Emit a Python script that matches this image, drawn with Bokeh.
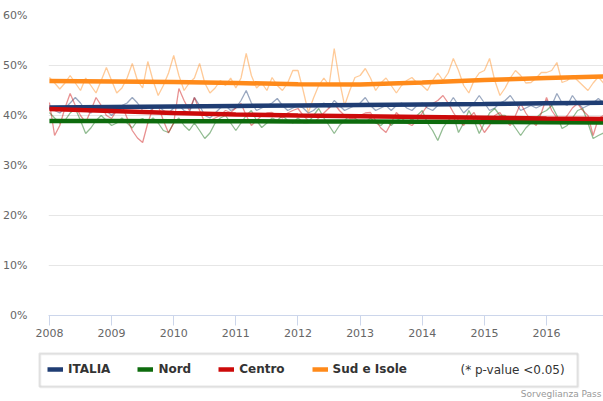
import numpy as np
from bokeh.plotting import figure
from bokeh.layouts import column
from bokeh.models import (FixedTicker, CustomJSTickFormatter, Legend, LegendItem,
                          Label, BoxAnnotation, Range1d)
from bokeh.embed import file_html
from bokeh.resources import INLINE

# ---- data (monthly, Jan 2008 .. Dec 2016), % ----
month_index = list(range(108))
year_ticks = [2008, 2009, 2010, 2011, 2012, 2013, 2014, 2015, 2016]
pct_ticks = [0, 10, 20, 30, 40, 50, 60]

italia = [41.4, 41.0, 40.5, 41.5, 42.5, 43.6, 42.5, 41.0, 40.5, 41.5, 42.0, 41.0,
          40.0, 41.0, 42.0, 42.5, 43.6, 42.5, 41.0, 40.5, 41.5, 42.0, 41.0, 40.5,
          41.5, 42.0, 41.0, 40.5, 43.6, 42.0, 40.0, 39.5, 40.5, 41.5, 42.0, 41.0,
          41.5, 43.0, 45.0, 42.5, 41.0, 41.5, 42.0, 42.5, 43.4, 42.0, 41.0, 41.5,
          42.0, 41.5, 40.5, 41.0, 42.0, 42.5, 41.5, 43.0, 42.0, 41.0, 41.5, 42.0,
          42.5, 43.6, 42.0, 41.0, 41.5, 42.0, 41.0, 42.0, 42.5, 41.5, 41.0, 42.0,
          42.5, 41.5, 41.0, 42.0, 42.5, 42.0, 43.6, 42.0, 40.5, 41.5, 42.5, 44.0,
          42.5, 41.0, 41.5, 42.5, 43.0, 44.0, 42.5, 41.0, 41.5, 42.0, 41.5, 42.0,
          43.0, 42.0, 44.4, 42.5, 42.0, 44.0, 42.5, 41.5, 42.0, 42.5, 43.4, 42.5]

nord = [40.6, 39.5, 38.5, 39.0, 40.5, 41.4, 39.0, 36.4, 37.5, 39.0, 40.0, 39.0,
        38.0, 38.5, 39.5, 38.5, 37.5, 39.0, 39.4, 38.5, 39.5, 38.5, 37.0, 36.6,
        38.5, 39.5, 38.0, 37.0, 38.5, 37.0, 35.4, 36.5, 38.5, 39.5, 40.0, 38.5,
        37.0, 38.5, 40.0, 41.0, 39.0, 37.6, 38.5, 39.5, 39.0, 40.0, 39.0, 38.5,
        39.5, 38.6, 38.6, 40.0, 41.4, 39.5, 38.0, 36.4, 38.0, 39.0, 40.0, 39.5,
        38.6, 38.6, 39.5, 38.5, 38.0, 39.0, 38.0, 39.0, 39.5, 40.0, 39.0, 40.0,
        41.0, 38.5, 37.0, 35.0, 37.5, 39.0, 40.0, 36.6, 38.5, 41.0, 39.0, 36.4,
        38.5, 40.5, 41.4, 40.0, 40.0, 39.0, 37.5, 36.0, 37.5, 38.5, 39.5, 40.5,
        41.0, 42.0, 40.0, 37.4, 38.0, 39.5, 41.0, 41.4, 38.5, 35.4, 36.0, 36.5]

centro = [42.6, 36.0, 38.0, 41.5, 44.4, 42.0, 40.0, 38.6, 41.0, 43.6, 42.0, 40.0,
          39.4, 41.0, 42.0, 39.5, 37.0, 35.5, 34.6, 38.5, 41.5, 42.0, 39.0, 36.5,
          38.5, 45.4, 43.0, 41.0, 43.6, 41.0, 38.6, 39.0, 39.5, 40.0, 41.0, 40.6,
          41.5, 42.4, 40.0, 38.0, 39.0, 40.0, 40.5, 40.6, 40.0, 39.5, 40.5, 41.0,
          41.4, 40.0, 39.0, 38.6, 39.5, 40.5, 41.5, 42.4, 41.0, 40.0, 39.4, 39.5,
          40.0, 40.5, 40.6, 39.0, 37.5, 36.6, 38.5, 40.6, 39.5, 38.5, 38.0, 39.0,
          40.5, 42.0, 42.4, 43.0, 44.0, 42.5, 40.6, 39.0, 38.0, 39.5, 40.6, 38.5,
          36.6, 38.0, 40.0, 40.6, 39.0, 38.0, 40.0, 42.4, 40.5, 39.0, 38.0, 40.5,
          43.6, 41.0, 39.5, 38.6, 40.0, 41.5, 42.4, 41.0, 40.0, 36.0, 39.4, 40.0]

sud = [47.6, 46.5, 45.3, 46.5, 48.0, 46.5, 45.0, 47.5, 46.0, 44.5, 47.0, 49.6,
       47.0, 44.5, 45.5, 47.5, 50.4, 47.0, 45.5, 50.8, 47.0, 44.0, 46.0, 48.5,
       52.0, 48.0, 45.0, 46.5, 47.5, 50.4, 46.5, 44.5, 45.5, 47.0, 46.0, 47.5,
       45.5, 47.5, 52.4, 48.0, 45.5, 46.5, 45.0, 47.6, 46.0, 45.0, 46.5, 49.0,
       49.0, 45.0, 40.6, 43.5, 46.0, 47.5, 46.0, 53.4, 47.0, 42.0, 45.0, 47.6,
       48.0, 49.4, 47.5, 45.0, 46.5, 47.5, 46.0, 44.5, 46.0, 47.0, 47.6, 46.5,
       46.0, 45.0, 47.0, 48.5, 47.0, 48.5, 51.4, 49.0, 46.0, 44.5, 47.0, 48.5,
       49.0, 51.4, 47.0, 44.0, 45.5, 47.5, 49.0, 48.0, 46.5, 46.6, 47.5, 48.6,
       48.6, 49.0, 50.6, 46.6, 47.0, 48.0, 47.0, 46.0, 45.0, 46.5, 47.7, 46.5]

# trend lines (read at the start of each year and at the last month)
trend_months = [0, 12, 24, 36, 48, 60, 72, 84, 96, 107]
italia_trend = [41.6, 41.7, 41.8, 41.9, 42.0, 42.1, 42.2, 42.3, 42.45, 42.55]
nord_trend = [38.9, 38.9, 38.85, 38.85, 38.8, 38.8, 38.75, 38.7, 38.65, 38.6]
centro_trend = [41.3, 40.9, 40.5, 40.2, 40.0, 39.85, 39.7, 39.55, 39.4, 39.3]
sud_trend = [46.9, 46.8, 46.7, 46.5, 46.25, 46.2, 46.6, 47.1, 47.5, 47.8]

series_names = ["ITALIA", "Nord", "Centro", "Sud e Isole"]
series_colors = ["#1f3d73", "#0d6b0d", "#cc0a0a", "#ff8a1a"]

FONT = "DejaVu Sans"

x_month = [2008 + m / 12 for m in month_index]
x_trend = [2008 + m / 12 for m in trend_months]

p = figure(width=603, height=343, output_backend="svg", toolbar_location=None,
           x_range=Range1d(2007.985, 2008 + 107 / 12), y_range=Range1d(0, 60),
           min_border_left=45, min_border_right=0, min_border_top=15,
           min_border_bottom=28)
p.outline_line_color = None
p.background_fill_color = "white"

# axes
p.xaxis.ticker = FixedTicker(ticks=year_ticks)
p.xaxis.formatter = CustomJSTickFormatter(code="return tick.toFixed(0);")
p.xaxis.axis_line_color = "#ccd6eb"
p.xaxis.major_tick_line_color = "#ccd6eb"
p.xaxis.major_tick_out = 10
p.xaxis.major_tick_in = 0
p.xaxis.minor_tick_line_color = None
p.xaxis.major_label_text_color = "#666666"
p.xaxis.major_label_text_font = FONT
p.xaxis.major_label_text_font_size = "11px"
p.xaxis.major_label_standoff = 3

p.yaxis.ticker = FixedTicker(ticks=pct_ticks)
p.yaxis.formatter = CustomJSTickFormatter(code="return tick.toFixed(0) + '%';")
p.yaxis.axis_line_color = None
p.yaxis.major_tick_line_color = None
p.yaxis.minor_tick_line_color = None
p.yaxis.major_label_text_color = "#666666"
p.yaxis.major_label_text_font = FONT
p.yaxis.major_label_text_font_size = "11px"
p.yaxis.major_label_standoff = 15

p.xgrid.grid_line_color = None
p.ygrid.grid_line_color = "#e6e6e6"
p.ygrid.ticker = FixedTicker(ticks=pct_ticks)

raw = [italia, nord, centro, sud]
trends = [italia_trend, nord_trend, centro_trend, sud_trend]

for vals, col in zip(raw, series_colors):
    p.line(x_month, vals, line_color=col, line_width=1.3, line_alpha=0.45)

for idx in [3, 0, 1, 2]:
    p.line(x_trend, trends[idx], line_color=series_colors[idx], line_width=4.5)

# ---- legend strip ----
leg = figure(width=603, height=58, output_backend="svg", toolbar_location=None,
             x_range=Range1d(0, 1), y_range=Range1d(0, 1),
             min_border=0, x_axis_type=None, y_axis_type=None)
leg.frame_align = False
leg.outline_line_color = None
leg.xgrid.visible = False
leg.ygrid.visible = False

# swatch renderers for the legend (their single point lies outside the strip's range)
swatches = [leg.line(x_trend[:1], tr[:1], line_color=c, line_width=4.5)
            for tr, c in zip(trends, series_colors)]

shadow = BoxAnnotation(left=40, right=578, bottom=14, top=47,
                       left_units="screen", right_units="screen",
                       bottom_units="screen", top_units="screen",
                       fill_alpha=0, line_color="#dcdcdc", line_width=2)
box = BoxAnnotation(left=39, right=577, bottom=15, top=48,
                    left_units="screen", right_units="screen",
                    bottom_units="screen", top_units="screen",
                    fill_alpha=0, line_color="#a6a6a6", line_width=2)
leg.add_layout(shadow)
leg.add_layout(box)

legend = Legend(items=[LegendItem(label=n, renderers=[r]) for n, r in zip(series_names, swatches)],
                orientation="horizontal", location=(47, 22),
                border_line_alpha=0, background_fill_alpha=0, padding=0,
                spacing=27, glyph_width=16, glyph_height=20, label_standoff=5,
                label_text_font=FONT, label_text_font_style="bold",
                label_text_font_size="12px", label_text_color="#333333",
                label_height=20, margin=0)
leg.add_layout(legend, "center")

leg.add_layout(Label(x=460, y=32, x_units="screen", y_units="screen",
                     text="(* p-value <0.05)", text_baseline="middle",
                     text_font=FONT, text_font_size="12px", text_color="#333333"))

leg.add_layout(Label(x=601, y=8, x_units="screen", y_units="screen",
                     text="Sorveglianza Pass", text_align="right", text_baseline="middle",
                     text_font=FONT, text_font_size="9px", text_color="#999999"))

layout = column(p, leg, spacing=0)
open("out.html", "w").write(file_html(layout, INLINE))
